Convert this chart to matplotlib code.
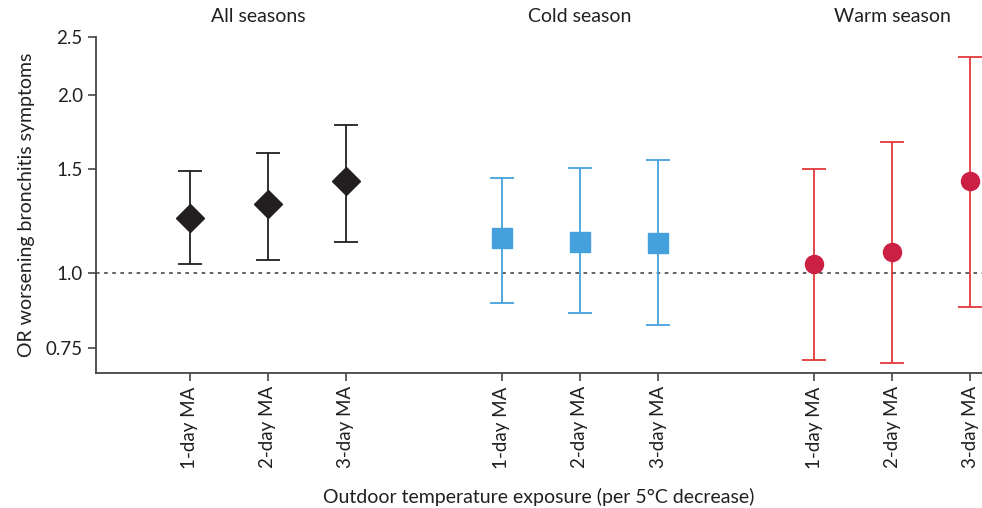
import matplotlib.pyplot as plt
import numpy as np

plt.rcParams['font.family'] = ['Lato', 'DejaVu Sans']

groups = ['All seasons', 'Cold season', 'Warm season']
lags = ['1-day MA', '2-day MA', '3-day MA']

or_all = [1.24, 1.31, 1.43]
lo_all = [1.036, 1.052, 1.129]
hi_all = [1.486, 1.595, 1.78]

or_cold = [1.147, 1.129, 1.125]
lo_cold = [0.892, 0.858, 0.819]
hi_cold = [1.446, 1.504, 1.552]

or_warm = [1.036, 1.086, 1.429]
lo_warm = [0.714, 0.708, 0.879]
hi_warm = [1.50, 1.665, 2.315]

yticks = [0.75, 1.0, 1.5, 2.0, 2.5]

fig = plt.figure(figsize=(9.82, 5.08), dpi=100)
ax = fig.add_axes([96/982, 135/508, 886/982, 336/508])

styles = [
    dict(color='#231f20', ecolor='#231f20', marker='D', ms=14),
    dict(color='#45a1dc', ecolor='#45a1dc', marker='s', ms=14),
    dict(color='#cc1f44', ecolor='#e0383a', marker='o', ms=13),
]
data = [(or_all, lo_all, hi_all), (or_cold, lo_cold, hi_cold), (or_warm, lo_warm, hi_warm)]

xpos = []
for g, ((est, lo, hi), st) in enumerate(zip(data, styles)):
    x = np.arange(3) + 4 * g
    xpos.extend(x)
    est = np.array(est); lo = np.array(lo); hi = np.array(hi)
    ax.errorbar(x, est, yerr=[est - lo, hi - est], fmt=st['marker'],
                color=st['color'], ecolor=st['ecolor'], ms=st['ms'],
                mec=st['color'], elinewidth=1.3, capsize=8.5, capthick=1.3, zorder=3)
    ax.text(x[1] - (0.12 if g == 0 else 0), 1.035, groups[g], transform=ax.get_xaxis_transform(),
            ha='center', va='bottom', fontsize=14, color='#231f20')

ax.axhline(1.0, color='#555555', ls=(0, (2, 2.5)), lw=1.3, zorder=1)

ax.set_yscale('log')
ax.set_ylim(0.68, 2.5)
ax.set_xlim(-1.2, 10.15)
ax.set_yticks(yticks)
ax.set_yticklabels(['0.75', '1.0', '1.5', '2.0', '2.5'])
ax.minorticks_off()
ax.set_xticks(xpos)
ax.set_xticklabels(lags * 3, rotation=90)

for s in ['top', 'right']:
    ax.spines[s].set_visible(False)
for s in ['left', 'bottom']:
    ax.spines[s].set_color('#444444')
    ax.spines[s].set_linewidth(1.3)
ax.tick_params(axis='both', length=6, width=1.2, color='#444444', labelsize=13.5,
               labelcolor='#231f20')

ax.set_ylabel('OR worsening bronchitis symptoms', fontsize=14, color='#231f20', labelpad=8)
ax.set_xlabel('Outdoor temperature exposure (per 5°C decrease)', fontsize=14,
              color='#231f20', labelpad=14)

fig.savefig('out.png', dpi=100)
